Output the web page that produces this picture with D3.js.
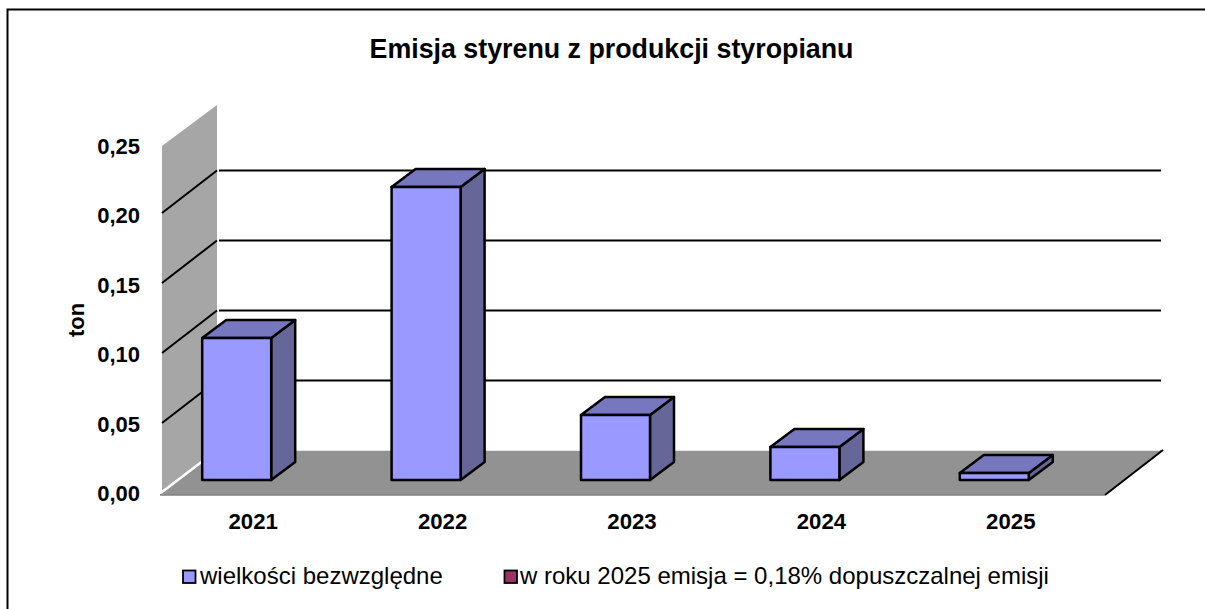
<!DOCTYPE html>
<html><head><meta charset="utf-8">
<script src="https://cdn.jsdelivr.net/npm/d3@7/dist/d3.min.js"></script>
<style>html,body{margin:0;padding:0;background:#fff}svg{display:block}text{font-family:"Liberation Sans",Arial,sans-serif;fill:#000}</style>
</head><body><svg id="c" width="1205" height="609"></svg>
<script>
const title = "Emisja styrenu z produkcji styropianu";
const yLabel = "ton";
const categories = ["2021","2022","2023","2024","2025"];
const seriesValues = [0.1014,0.2093,0.0464,0.0236,0.005];
const yTicks = [0,0.05,0.10,0.15,0.20,0.25];
const legendLabels = ["wielkości bezwzględne","w roku 2025 emisja = 0,18% dopuszczalnej emisji"];
const legendColors = ["#9999ff","#993366"];

const svg = d3.select("#c");
const y = d3.scaleLinear().domain([0,0.25]).range([493,143]);
const yLab = d3.scaleLinear().domain([0,0.25]).range([501,154]);
const x = d3.scaleBand().domain(categories).range([158,1105]);
const fmt = v => d3.format(".2f")(v).replace(".",",");
const wallD = [55,-42], barD = [24,-18];
const barW = 69, barShiftX = -16, barBase = 480;

// frame (top and left only)
svg.append("path").attr("d","M7.5,609V9.5H1205").attr("fill","none").attr("stroke","#000").attr("stroke-width",2);

// title
svg.append("text").attr("x",611.5).attr("y",58).attr("text-anchor","middle")
  .attr("font-size",26.8).attr("font-weight","bold").text(title);

// wall
svg.append("path").attr("fill","#a6a6a6")
  .attr("d",d3.line()([[162,146],[217,105],[217,450],[162,492]]));
// floor
svg.append("path").attr("fill","#929292")
  .attr("d",d3.line()([[160,495],[217,450],[1163,450],[1105,495]]));
svg.append("line").attr("x1",160).attr("x2",1105).attr("y1",495).attr("y2",495).attr("stroke","#808080").attr("stroke-width",1.5);
svg.append("line").attr("x1",1105).attr("y1",495).attr("x2",1163).attr("y2",450).attr("stroke","#000").attr("stroke-width",2);
svg.append("path").attr("fill","none").attr("stroke","#fff").attr("stroke-width",2.5)
  .attr("d",d3.line()([[162,492],[218,449.5],[1160,449.5]]));

// gridlines
const gridVals = yTicks.filter(v => v>0 && v<0.25);
svg.append("g").selectAll("path").data(gridVals).join("path")
  .attr("fill","none").attr("stroke","#000").attr("stroke-width",2)
  .attr("d",v => {
    const fy = y(v), by = fy+wallD[1]-0.5;
    return `M162,${fy}L217,${by}M219,${by}H1161`;
  });

// y tick labels
svg.append("g").selectAll("text").data(yTicks).join("text")
  .attr("x",140).attr("y",v => yLab(v))
  .attr("text-anchor","end").attr("font-size",22).attr("font-weight","bold")
  .text(fmt);
svg.append("text").attr("transform","translate(84,320) rotate(-90)").attr("text-anchor","middle")
  .attr("font-size",22).attr("font-weight","bold").text(yLabel);

// x tick labels
svg.append("g").selectAll("text").data(categories).join("text")
  .attr("x",c => x(c)+x.bandwidth()/2+0.5).attr("y",529).attr("text-anchor","middle")
  .attr("font-size",22.2).attr("font-weight","bold").text(c => c);

// bars
const rows = categories.map((c,i)=>({c,v:seriesValues[i]}));
const barG = svg.append("g").selectAll("g").data(rows).join("g")
  .attr("stroke","#000").attr("stroke-width",2.5).attr("stroke-linejoin","round");
const barL = d => x(d.c)+x.bandwidth()/2+barShiftX-barW/2;
const barT = d => barBase-(y(0)-y(d.v));
barG.append("path").attr("fill","#666699").attr("d",d=>{
  const r=barL(d)+barW,t=barT(d);
  return d3.line()([[r,t],[r+barD[0],t+barD[1]],[r+barD[0],barBase+barD[1]],[r,barBase]])+"Z";
});
barG.append("path").attr("fill","#7777bf").attr("d",d=>{
  const l=barL(d),r=l+barW,t=barT(d);
  return d3.line()([[l,t],[l+barD[0],t+barD[1]],[r+barD[0],t+barD[1]],[r,t]])+"Z";
});
barG.append("rect").attr("fill","#9999ff").attr("x",barL).attr("y",barT)
  .attr("width",barW).attr("height",d=>barBase-barT(d));

// legend
const legX=[183,504.5], legTextX=[200,520];
const leg = svg.append("g").selectAll("g").data(legendLabels).join("g");
leg.append("rect").attr("x",(d,i)=>legX[i]).attr("y",570.5).attr("width",12.5).attr("height",12.5)
  .attr("fill",(d,i)=>legendColors[i]).attr("stroke","#000").attr("stroke-width",1.8);
leg.append("text").attr("x",(d,i)=>legTextX[i]).attr("y",584).attr("font-size",24).text(d=>d);
</script></body></html>
